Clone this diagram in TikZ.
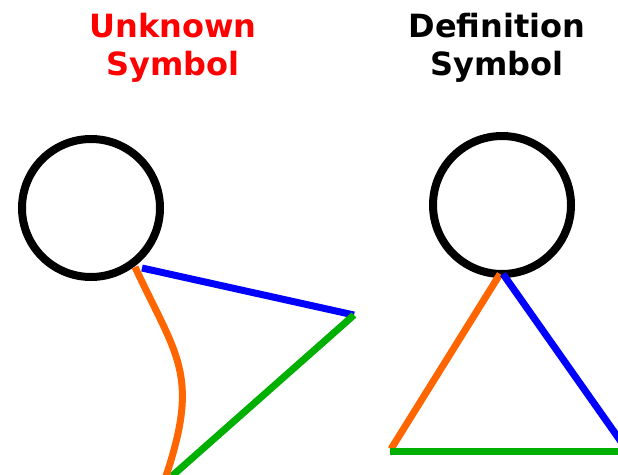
\documentclass[tikz,border=0pt]{standalone}
\usepackage{fontspec}
\setmainfont{DejaVu Sans}
\definecolor{ored}{RGB}{255,0,0}
\definecolor{oorange}{RGB}{255,102,0}
\definecolor{oblue}{RGB}{0,0,255}
\definecolor{ogreen}{RGB}{0,176,0}
\begin{document}
\begin{tikzpicture}[x=1pt,y=-1pt,
  head/.style={circle,draw=black,line width=8pt,minimum size=138pt,inner sep=0pt},
  limb/.style={line width=7pt},
  title/.style={font=\fontsize{32}{38}\selectfont\bfseries,align=center,inner sep=0pt,anchor=north}]
\useasboundingbox (0,0) rectangle (618,474);
% titles
\node[title,text=ored] (tu) at (173,13) {Unknown\\Symbol};
\node[title,text=black] (td) at (497,13) {Definition\\Symbol};
% left figure
\node[head] (hl) at (91,208) {};
\coordinate (lo) at (135,267);
\coordinate (lb) at (142,268);
\coordinate (lr) at (354,315);
\coordinate (lf) at (166,476);
\coordinate (lg) at (172,476);
\draw[limb,oblue] (lb) -- (lr);
\draw[limb,ogreen] (lr) -- (lg);
\draw[limb,oorange] (lo) .. controls (177,357) and (200,374) .. (lf);
% right figure
\node[head] (hr) at (502,205) {};
\coordinate (ro) at (500,274);
\coordinate (rb) at (503,274);
\coordinate (rl) at (391,449);
\coordinate (rr) at (622,443);
\coordinate (rg) at (620,451);
\coordinate (rgl) at (390,451);
\draw[limb,oorange] (ro) -- (rl);
\draw[limb,oblue] (rb) -- (rr);
\draw[limb,ogreen] (rgl) -- (rg);
\end{tikzpicture}
\end{document}
